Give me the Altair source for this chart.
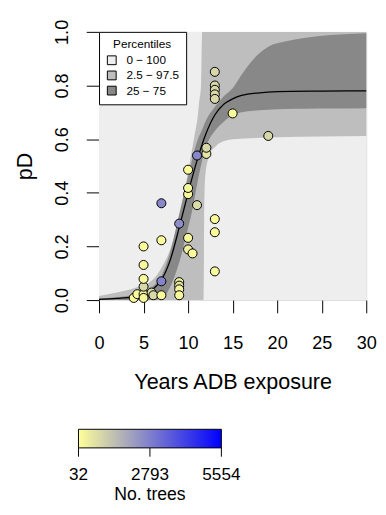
import altair as alt
import pandas as pd

# ---------------- data ----------------
# observed plots: years of exposure, proportion dead, number of trees
obs_x = [3.9, 4.3, 5.0, 5.0, 5.9, 6.1, 7.0, 5.0, 5.0, 5.0, 5.0,
         7.0, 7.0, 7.0, 9.0, 9.0, 9.0, 9.0, 9.0,
         10.0, 10.0, 10.5, 11.0, 10.0, 10.0, 10.0, 11.0, 12.05, 12.05,
         13.0, 13.0, 13.0, 13.0, 13.0, 13.0, 13.0, 13.0, 15.0, 19.0]
obs_y = [0.008, 0.022, 0.022, 0.008, 0.028, 0.018, 0.018, 0.050, 0.079, 0.131, 0.200,
         0.070, 0.223, 0.361, 0.067, 0.054, 0.040, 0.018, 0.285,
         0.232, 0.189, 0.174, 0.354, 0.395, 0.418, 0.486, 0.539, 0.545, 0.568,
         0.302, 0.253, 0.107, 0.851, 0.800, 0.784, 0.767, 0.750, 0.696, 0.612]
obs_trees = [150, 120, 200, 180, 900, 850, 160, 900, 180, 200, 150,
             2700, 150, 2600, 300, 700, 250, 200, 2500,
             200, 400, 150, 800, 200, 250, 150, 2600, 600, 900,
             150, 160, 170, 900, 850, 880, 900, 870, 200, 900]

# percentile bands (x, lower, upper)
b100_x = [0, 30]
b100_lo = [0.0, 0.0]
b100_hi = [1.0, 1.0]

b95_x = [0, 2, 4, 6, 7, 8, 9, 9.4, 10, 10.7, 11.1, 11.25, 11.45, 11.58, 11.75, 11.8, 11.9,
         12.2, 12.5, 13, 13.5, 15, 20, 30]
b95_lo = [0, 0, 0, 0, 0, 0, 0, 0, 0, 0, 0, 0, 0, 0, 0, 0.30, 0.45,
          0.52, 0.55, 0.57, 0.585, 0.600, 0.607, 0.612]
b95_hi = [0.015, 0.028, 0.045, 0.075, 0.12, 0.19, 0.31, 0.37, 0.48, 0.61, 0.69, 0.74, 0.80, 1.0,
          1.0, 1.0, 1.0, 1.0, 1.0, 1.0, 1.0, 1.0, 1.0, 1.0]

b50_x = [0, 4, 6, 7, 8, 9, 10, 10.5, 11, 11.5, 12, 13, 14, 15, 16, 17, 18, 19, 21, 23, 26, 30]
b50_lo = [0, 0, 0, 0.005, 0.05, 0.14, 0.27, 0.34, 0.43, 0.51, 0.57, 0.63, 0.665, 0.69, 0.70,
          0.705, 0.708, 0.710, 0.712, 0.713, 0.714, 0.715]
b50_hi = [0.006, 0.02, 0.05, 0.09, 0.18, 0.32, 0.46, 0.53, 0.59, 0.63, 0.67, 0.72, 0.76,
          0.79, 0.84, 0.885, 0.92, 0.945, 0.965, 0.977, 0.988, 0.995]

med_x = [0, 2, 4, 5, 6, 7, 8, 9, 10, 11, 12, 13, 14, 15, 16, 18, 20, 25, 30]
med_y = [0.003, 0.006, 0.013, 0.02, 0.04, 0.075, 0.15, 0.27, 0.40, 0.52, 0.62, 0.69, 0.73,
         0.75, 0.763, 0.773, 0.777, 0.779, 0.78]

band_names = ["0 \u2212 100", "2.5 \u2212 97.5", "25 \u2212 75"]
band_colors = ["#EEEEEE", "#BEBEBE", "#888888"]
x_ticks = [0, 5, 10, 15, 20, 25, 30]
y_ticks = [0.0, 0.2, 0.4, 0.6, 0.8, 1.0]
tree_ticks = [32, 2793, 5554]
tree_domain = [32, 5554]
tree_title = ["No. trees"]

FONT = "Liberation Sans"

# ---------------- tables ----------------
def band_df(name, xs, lo, hi):
    return pd.DataFrame({"x": xs, "lo": lo, "hi": hi, "band": name})

bands = [band_df(band_names[0], b100_x, b100_lo, b100_hi),
         band_df(band_names[1], b95_x, b95_lo, b95_hi),
         band_df(band_names[2], b50_x, b50_lo, b50_hi)]
med = pd.DataFrame({"x": med_x, "y": med_y})
pts = pd.DataFrame({"x": obs_x, "y": obs_y, "trees": obs_trees})
tk = pd.DataFrame({"trees": tree_ticks})
ttl = pd.DataFrame({"t": tree_title})

xs = alt.Scale(domain=[0, 30], nice=False, zero=False)
ys = alt.Scale(domain=[0, 1], nice=False, zero=False)

xaxis = alt.Axis(values=x_ticks, title="Years ADB exposure", domain=False, grid=False,
                 tickSize=13, tickColor="black", labelFontSize=18.5, labelPadding=21,
                 labelFlush=False, labelOverlap=False,
                 titleFontSize=22, titleFontWeight="normal", titlePadding=21,
                 labelColor="black", titleColor="black", labelFont=FONT, titleFont=FONT)
yaxis = alt.Axis(values=y_ticks, format=".1f", title="pD", domain=False, grid=False,
                 tickSize=13, tickColor="black", labelAngle=-90, labelFontSize=18.5,
                 labelPadding=15, labelAlign="center", labelBaseline="bottom",
                 labelFlush=False, labelOverlap=False,
                 titleFontSize=22, titleFontWeight="normal", titlePadding=17,
                 labelColor="black", titleColor="black", labelFont=FONT, titleFont=FONT)

band_color = alt.Color("band:N",
    scale=alt.Scale(domain=band_names, range=band_colors),
    legend=alt.Legend(title="Percentiles", orient="top-left", offset=0,
                      strokeColor="black", fillColor="white", padding=7,
                      symbolType="square", symbolSize=81, symbolStrokeColor="black",
                      symbolStrokeWidth=1, symbolOpacity=1, labelOffset=9,
                      titleFontSize=12, titleFontWeight="normal", titleAnchor="middle",
                      labelFontSize=12, labelFont=FONT, titleFont=FONT, labelLimit=200,
                      titleColor="black", labelColor="black", rowPadding=1.5, titlePadding=4))

layers = []
for bdf in bands:
    layers.append(
        alt.Chart(bdf).mark_area(interpolate="monotone", opacity=1).encode(
            x=alt.X("x:Q", scale=xs, axis=xaxis),
            y=alt.Y("lo:Q", scale=ys, axis=yaxis),
            y2="hi:Q",
            color=band_color,
        )
    )

line = alt.Chart(med).mark_line(interpolate="monotone", color="black", strokeWidth=1.3).encode(
    x=alt.X("x:Q", scale=xs, axis=xaxis), y=alt.Y("y:Q", scale=ys, axis=yaxis))

points = alt.Chart(pts).mark_circle(size=85, opacity=1, stroke="black", strokeWidth=1).encode(
    x=alt.X("x:Q", scale=xs, axis=xaxis), y=alt.Y("y:Q", scale=ys, axis=yaxis),
    fill=alt.Fill("trees:Q",
        scale=alt.Scale(domain=tree_domain, range=["#FFFF99", "#0000FF"], interpolate="rgb"),
        legend=alt.Legend(title=None, orient="none", direction="horizontal",
                          legendX=-21, legendY=406, gradientLength=146, gradientThickness=19,
                          gradientStrokeColor="black", gradientStrokeWidth=1,
                          values=tree_ticks, labelExpr="''", labelFontSize=1)),
)

main = alt.layer(*layers, line, points)

# tick marks and labels under the colour bar, placed by a scale spanning the bar
bar_scale = alt.Scale(domain=tree_domain, range=[-21, 125], nice=False, zero=False)
bar_ticks = alt.Chart(tk).mark_rule(color="black", strokeWidth=1, clip=False).encode(
    x=alt.X("trees:Q", scale=bar_scale, axis=None),
    y=alt.value(425), y2=alt.value(434),
)
bar_labels = alt.Chart(tk).mark_text(fontSize=17.5, font=FONT, color="black", align="center",
                                     baseline="middle", clip=False).encode(
    x=alt.X("trees:Q", scale=bar_scale, axis=None),
    y=alt.value(453),
    text=alt.Text("trees:Q", format="d"),
)
bar_title = alt.Chart(ttl).mark_text(fontSize=18, font=FONT, color="black", align="center",
                                     baseline="middle", clip=False).encode(
    x=alt.value(52), y=alt.value(473), text="t:N",
)

chart = alt.layer(main, bar_ticks, bar_labels, bar_title).resolve_scale(x="independent").properties(
    width=273, height=274,
    autosize=alt.AutoSizeParams(type="none"),
    padding={"left": 93, "top": 19, "right": 12, "bottom": 206},
).configure_view(stroke="black", strokeWidth=1.2).configure(font=FONT)

chart.save("out.html", embed_options={"renderer": "svg", "actions": False})
